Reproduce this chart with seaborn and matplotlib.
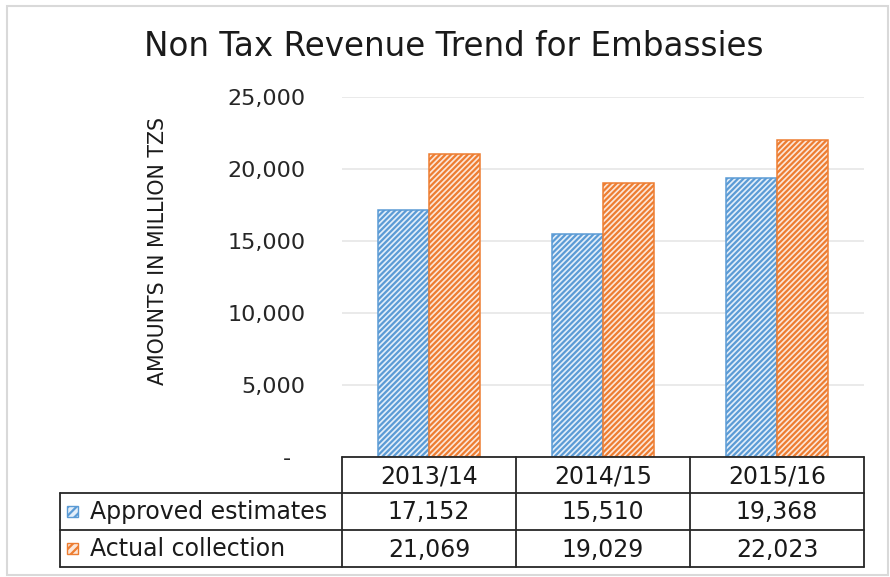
import matplotlib
matplotlib.use("Agg")
import matplotlib.pyplot as plt
from matplotlib.patches import Rectangle
import pandas as pd
import seaborn as sns

# Data
years = ["2013/14", "2014/15", "2015/16"]
series = ["Approved estimates", "Actual collection"]
approved = [17152, 15510, 19368]
actual = [21069, 19029, 22023]
yticks = [0, 5000, 10000, 15000, 20000, 25000]
ytick_labels = ["-  ", "5,000", "10,000", "15,000", "20,000", "25,000"]

colors = ["#5B9BD5", "#ED7D31"]
tints = ["#e3eef9", "#fce6d8"]

df = pd.DataFrame({
    "year": years * 2,
    "series": [series[0]] * 3 + [series[1]] * 3,
    "value": approved + actual,
})

sns.set_theme(style="white")
plt.rcParams["font.family"] = ["DejaVu Sans"]
plt.rcParams["hatch.linewidth"] = 1.6

W, H = 890, 577
fig = plt.figure(figsize=(W / 100, H / 100), dpi=100)

# plot area in pixel coordinates
x0, x1 = 342, 864
ytop, ybot = 97, 457
ax = fig.add_axes([x0 / W, 1 - ybot / H, (x1 - x0) / W, (ybot - ytop) / H])

sns.barplot(data=df, x="year", y="value", hue="series", palette=colors,
            width=0.59, gap=0, ax=ax, legend=False)

for i, p in enumerate(ax.patches):
    k = 0 if i < 3 else 1
    p.set_facecolor(tints[k])
    p.set_edgecolor(colors[k])
    p.set_hatch("//////")
    p.set_linewidth(1.1)

ax.set_ylim(0, 25000)
ax.set_yticks(yticks)
ax.set_yticklabels(ytick_labels, fontsize=16, color="#262626")
ax.tick_params(axis="y", length=0, pad=26.5)
ax.set_xticks([])
ax.set_xlabel("")
ax.set_ylabel("")
ax.grid(axis="y", color="#e8e8e8", linewidth=1.3)
ax.set_axisbelow(True)
for s in ax.spines.values():
    s.set_visible(False)

# rotated axis label
fig.text(158 / W, 1 - 251 / H, "AMOUNTS IN MILLION TZS", rotation=90,
         ha="center", va="center", fontsize=14.8, color="#1a1a1a")

# title
fig.text(454 / W, 1 - 46 / H, "Non Tax Revenue Trend for Embassies",
         ha="center", va="center", fontsize=23.5, color="#1a1a1a")

# data table under the plot
tx0 = 60
col_edges = [tx0, x0, x0 + (x1 - x0) / 3, x0 + 2 * (x1 - x0) / 3, x1]
row_edges = [457, 493, 530, 567]

def fx(px):
    return px / W

def fy(py):
    return 1 - py / H

lc = "#262626"
lw = 1.3
# horizontal lines
fig.add_artist(plt.Line2D([fx(x0), fx(x1)], [fy(row_edges[0])] * 2, color=lc, lw=lw))
for r in row_edges[1:]:
    fig.add_artist(plt.Line2D([fx(tx0), fx(x1)], [fy(r)] * 2, color=lc, lw=lw))
# vertical lines
fig.add_artist(plt.Line2D([fx(tx0)] * 2, [fy(row_edges[1]), fy(row_edges[3])], color=lc, lw=lw))
for c in col_edges[1:]:
    fig.add_artist(plt.Line2D([fx(c)] * 2, [fy(row_edges[0]), fy(row_edges[3])], color=lc, lw=lw))

tfs = 17
for j, yr in enumerate(years):
    cx = (col_edges[j + 1] + col_edges[j + 2]) / 2
    fig.text(fx(cx), fy((row_edges[0] + row_edges[1]) / 2 + 1), yr,
             ha="center", va="center", fontsize=tfs, color="#1a1a1a")

for k, (name, vals) in enumerate([(series[0], approved), (series[1], actual)]):
    cy = (row_edges[k + 1] + row_edges[k + 2]) / 2
    sq = 11
    fig.add_artist(Rectangle((fx(67), fy(cy + sq / 2)), sq / W, sq / H,
                             transform=fig.transFigure, facecolor=tints[k],
                             edgecolor=colors[k], hatch="////", lw=1))
    fig.text(fx(90), fy(cy + 1), name, ha="left", va="center",
             fontsize=tfs, color="#1a1a1a")
    for j, v in enumerate(vals):
        cx = (col_edges[j + 1] + col_edges[j + 2]) / 2
        fig.text(fx(cx), fy(cy + 1), f"{v:,}", ha="center", va="center",
                 fontsize=tfs, color="#1a1a1a")

# light frame around the whole chart
fig.add_artist(Rectangle((fx(7), fy(575)), (888 - 7) / W, (575 - 6) / H,
                         transform=fig.transFigure, fill=False,
                         edgecolor="#d9d9d9", lw=1.5))

fig.savefig("out.png", dpi=100)
